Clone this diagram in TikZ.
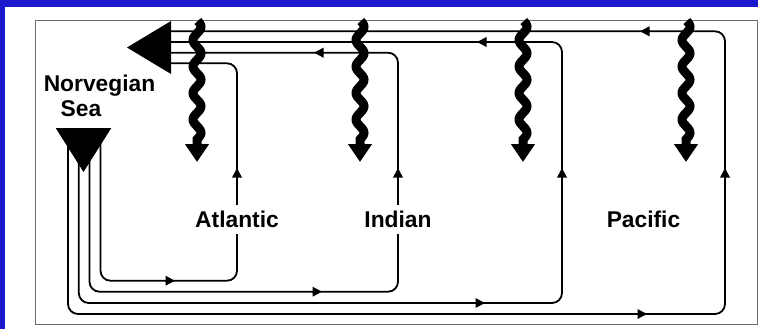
\documentclass[tikz,border=0pt]{standalone}
\usepackage{fontspec}
\setmainfont{Liberation Sans}
\usetikzlibrary{arrows.meta}
\definecolor{bgblue}{RGB}{26,26,204}
\definecolor{framegray}{RGB}{110,110,110}
\begin{document}
\begin{tikzpicture}[x=1pt,y=-1pt,
  flow/.style={line width=1.8pt, rounded corners=10pt},
  tipseg/.style={line width=1.8pt, -{Triangle[length=9.5pt,width=9.5pt]}},
  wave/.style={line width=9pt, -{Triangle[length=18pt,width=23pt]}},
  lbl/.style={font=\fontsize{22.8}{27}\selectfont\bfseries, anchor=base, inner sep=0pt},
  ocean/.style={lbl, fill=white, inner xsep=3pt, inner ysep=6pt}]
\useasboundingbox (0,0) rectangle (758,329);
\fill[bgblue] (0,0) rectangle (758,329);
\fill[white] (5,7.5) rectangle (758,329);
\draw[framegray, line width=1pt] (35,21) rectangle (757,324);

% named points
\coordinate (sA) at (100.5,128); \coordinate (sI) at (89.5,128);
\coordinate (sT) at (78.8,128);  \coordinate (sP) at (68,128);
\coordinate (eA) at (171,63.3);  \coordinate (eI) at (171,52.7);
\coordinate (eT) at (171,42);    \coordinate (eP) at (171,31.3);

% flows
\draw[flow] (sA) -- (100.5,280.7) -- (237,280.7) -- (237,63.3) -- (eA);
\draw[flow] (sI) -- (89.5,291.7) -- (398,291.7) -- (398,52.7) -- (eI);
\draw[flow] (sT) -- (78.8,303) -- (562,303) -- (562,42) -- (eT);
\draw[flow] (sP) -- (68,314) -- (725,314) -- (725,31.3) -- (eP);

% arrow tips on flows
\draw[tipseg] (165,280.7) -- (175,280.7);
\draw[tipseg] (312,291.7) -- (322,291.7);
\draw[tipseg] (475,303) -- (485,303);
\draw[tipseg] (637,314) -- (647,314);
\foreach \vx in {237,398,562,725} \draw[tipseg] (\vx,179) -- (\vx,168);
\draw[tipseg] (324,52.7) -- (314,52.7);
\draw[tipseg] (487,42) -- (477,42);
\draw[tipseg] (650,31.3) -- (640,31.3);

% triangles
\fill (171,21) -- (127,47.5) -- (171,74) -- cycle;
\fill (55.7,128) -- (111.3,128) -- (83.5,172) -- cycle;

% wavy arrows
\foreach \wx in {197,360,523,686}
  \draw[wave] plot[domain=-12.4:106, samples=130, smooth] ({\wx-4*sin((\x/26.5)*360)},{33.4+\x}) -- (\wx,162);

% labels
\node[lbl] (norv) at (99.5,91.5) {Norvegian};
\node[lbl] (sea) at (81,117) {Sea};
\node[ocean] (atl) at (237,227.5) {Atlantic};
\node[ocean] (ind) at (398,227.5) {Indian};
\node[lbl] (pac) at (643.5,227.5) {Pacific};
\end{tikzpicture}
\end{document}
